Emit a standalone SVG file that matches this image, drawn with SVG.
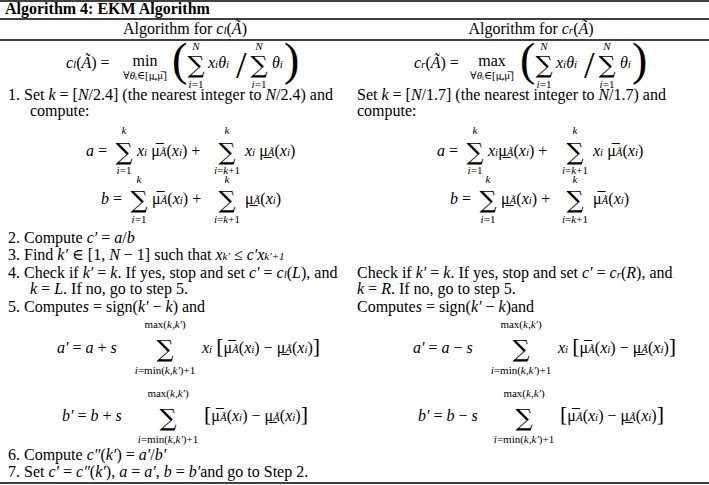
<svg xmlns="http://www.w3.org/2000/svg" width="709" height="485" viewBox="0 0 709 485">
<style>
text{font-family:"Liberation Serif","DejaVu Serif",serif;font-size:16px;fill:#000}
.b{font-weight:bold}
.i{font-style:italic}
.s{font-size:11px}
.sg{font-size:24px;font-family:"DejaVu Serif",serif;text-anchor:middle}
.c{text-anchor:middle}
line{stroke:#000;stroke-width:1.3}
</style>
<rect width="709" height="485" fill="#fff"/>
<g id="rules">
<line x1="0" y1="1" x2="709" y2="1"/>
<line x1="0" y1="19" x2="709" y2="19"/>
<line x1="0" y1="40" x2="709" y2="40"/>
<line x1="0" y1="483" x2="709" y2="483"/>
</g>
<g id="title"><text class="b" x="5" y="14">Algorithm 4: EKM Algorithm</text></g>
<g id="left">
<text class="c" x="185" y="34">Algorithm for <tspan class="i">c<tspan class="s">l</tspan></tspan>(<tspan class="i">Ã</tspan>)</text>
<text x="66" y="68"><tspan class="i">c<tspan class="s">l</tspan></tspan>(<tspan class="i">Ã</tspan>) = </text>
<text class="c" x="145" y="66">min</text>
<text class="s c" x="145" y="79">∀<tspan class="i">θ</tspan>ᵢ∈[μ̲,μ̅]</text>
<text x="172" y="75" style="font-size:46px;font-weight:100">(</text>
<text class="sg" x="196" y="73">∑</text>
<text class="s i c" x="196" y="50">N</text>
<text class="s c" x="196" y="88"><tspan class="i">i</tspan>=1</text>
<text class="i" x="208" y="68">x<tspan class="s">i</tspan>θ<tspan class="s">i</tspan></text>
<text x="236" y="78" style="font-size:38px;font-weight:100">/</text>
<text class="sg" x="259" y="73">∑</text>
<text class="s i c" x="259" y="50">N</text>
<text class="s c" x="259" y="88"><tspan class="i">i</tspan>=1</text>
<text class="i" x="272" y="68">θ<tspan class="s">i</tspan></text>
<text x="284" y="75" style="font-size:46px;font-weight:100">)</text>
<text x="8" y="100">1.  Set <tspan class="i">k</tspan> = [<tspan class="i">N</tspan>/2.4] (the nearest integer to <tspan class="i">N</tspan>/2.4) and</text>
<text x="30" y="116">compute:</text>
<text class="i" x="86" y="156">a</text><text x="98" y="156">=</text>
<text class="sg" x="124" y="160">∑</text>
<text class="s i c" x="124" y="134">k</text><text class="s c" x="124" y="174"><tspan class="i">i</tspan>=1</text>
<text x="137" y="156"><tspan class="i">x<tspan class="s">i</tspan></tspan> μ̅<tspan class="s i">Ã</tspan>(<tspan class="i">x<tspan class="s">i</tspan></tspan>) +</text>
<text class="sg" x="227" y="160">∑</text>
<text class="s i c" x="227" y="134">k</text><text class="s c" x="227" y="174"><tspan class="i">i</tspan>=<tspan class="i">k</tspan>+1</text>
<text x="245" y="156"><tspan class="i">x<tspan class="s">i</tspan></tspan> μ̲<tspan class="s i">Ã</tspan>(<tspan class="i">x<tspan class="s">i</tspan></tspan>)</text>
<text class="i" x="101" y="204">b</text><text x="113" y="204">=</text>
<text class="sg" x="139" y="208">∑</text>
<text class="s i c" x="139" y="183">k</text><text class="s c" x="139" y="223"><tspan class="i">i</tspan>=1</text>
<text x="152" y="204">μ̅<tspan class="s i">Ã</tspan>(<tspan class="i">x<tspan class="s">i</tspan></tspan>) +</text>
<text class="sg" x="227" y="208">∑</text>
<text class="s i c" x="227" y="183">k</text><text class="s c" x="227" y="223"><tspan class="i">i</tspan>=<tspan class="i">k</tspan>+1</text>
<text x="245" y="204">μ̲<tspan class="s i">Ã</tspan>(<tspan class="i">x<tspan class="s">i</tspan></tspan>)</text>
<text x="8" y="243">2.  Compute <tspan class="i">c′</tspan> =  <tspan class="i">a</tspan>/<tspan class="i">b</tspan></text>
<text x="8" y="260">3.  Find <tspan class="i">k′</tspan> ∈ [1, <tspan class="i">N</tspan> − 1] such that <tspan class="i">x<tspan class="s">k′</tspan></tspan> ≤ <tspan class="i">c′x<tspan class="s">k′+1</tspan></tspan></text>
<text x="8" y="278">4.  Check if <tspan class="i">k′</tspan> = <tspan class="i">k</tspan>. If yes, stop and set <tspan class="i">c′</tspan> = <tspan class="i">c<tspan class="s">l</tspan></tspan>(<tspan class="i">L</tspan>), and</text>
<text x="30" y="294"><tspan class="i">k</tspan> = <tspan class="i">L</tspan>. If no, go to step 5.</text>
<text x="8" y="312">5.  Compute<tspan class="i">s</tspan> = sign(<tspan class="i">k′</tspan> − <tspan class="i">k</tspan>) and</text>
<text x="57" y="353"><tspan class="i">a′</tspan> = <tspan class="i">a</tspan> + <tspan class="i">s</tspan></text>
<text class="s c" x="165" y="328">max(<tspan class="i">k</tspan>,<tspan class="i">k′</tspan>)</text>
<text class="sg" x="165" y="357">∑</text>
<text class="s c" x="165" y="374"><tspan class="i">i</tspan>=min(<tspan class="i">k</tspan>,<tspan class="i">k′</tspan>)+1</text>
<text x="202" y="353"><tspan class="i">x<tspan class="s">i</tspan></tspan> <tspan style="font-size:22px">[</tspan>μ̅<tspan class="s i">Ã</tspan>(<tspan class="i">x<tspan class="s">i</tspan></tspan>) − μ̲<tspan class="s i">Ã</tspan>(<tspan class="i">x<tspan class="s">i</tspan></tspan>)<tspan style="font-size:22px">]</tspan></text>
<text x="62" y="421"><tspan class="i">b′</tspan> = <tspan class="i">b</tspan> + <tspan class="i">s</tspan></text>
<text class="s c" x="168" y="397">max(<tspan class="i">k</tspan>,<tspan class="i">k′</tspan>)</text>
<text class="sg" x="168" y="426">∑</text>
<text class="s c" x="168" y="443"><tspan class="i">i</tspan>=min(<tspan class="i">k</tspan>,<tspan class="i">k′</tspan>)+1</text>
<text x="204" y="421"><tspan style="font-size:22px">[</tspan>μ̅<tspan class="s i">Ã</tspan>(<tspan class="i">x<tspan class="s">i</tspan></tspan>) − μ̲<tspan class="s i">Ã</tspan>(<tspan class="i">x<tspan class="s">i</tspan></tspan>)<tspan style="font-size:22px">]</tspan></text>
<text x="8" y="460">6.  Compute <tspan class="i">c″</tspan>(<tspan class="i">k′</tspan>) = <tspan class="i">a′</tspan>/<tspan class="i">b′</tspan></text>
<text x="8" y="477">7.  Set <tspan class="i">c′</tspan> = <tspan class="i">c″</tspan>(<tspan class="i">k′</tspan>), <tspan class="i">a</tspan> = <tspan class="i">a′</tspan>, <tspan class="i">b</tspan> = <tspan class="i">b′</tspan>and go to Step 2.</text>
</g>
<g id="right">
<text class="c" x="531" y="34">Algorithm for <tspan class="i">c<tspan class="s">r</tspan></tspan>(<tspan class="i">Ã</tspan>)</text>
<text x="414" y="68"><tspan class="i">c<tspan class="s">r</tspan></tspan>(<tspan class="i">Ã</tspan>) = </text>
<text class="c" x="492" y="66">max</text>
<text class="s c" x="492" y="79">∀<tspan class="i">θ</tspan>ᵢ∈[μ̲,μ̅]</text>
<text x="520" y="75" style="font-size:46px;font-weight:100">(</text>
<text class="sg" x="544" y="73">∑</text>
<text class="s i c" x="544" y="50">N</text>
<text class="s c" x="544" y="88"><tspan class="i">i</tspan>=1</text>
<text class="i" x="556" y="68">x<tspan class="s">i</tspan>θ<tspan class="s">i</tspan></text>
<text x="584" y="78" style="font-size:38px;font-weight:100">/</text>
<text class="sg" x="607" y="73">∑</text>
<text class="s i c" x="607" y="50">N</text>
<text class="s c" x="607" y="88"><tspan class="i">i</tspan>=1</text>
<text class="i" x="620" y="68">θ<tspan class="s">i</tspan></text>
<text x="632" y="75" style="font-size:46px;font-weight:100">)</text>
<text x="357" y="100">Set <tspan class="i">k</tspan> = [<tspan class="i">N</tspan>/1.7] (the nearest integer to <tspan class="i">N</tspan>/1.7) and</text>
<text x="357" y="116">compute:</text>
<text class="i" x="437" y="156">a</text><text x="449" y="156">=</text>
<text class="sg" x="475" y="160">∑</text>
<text class="s i c" x="475" y="134">k</text><text class="s c" x="475" y="174"><tspan class="i">i</tspan>=1</text>
<text x="488" y="156"><tspan class="i">x<tspan class="s">i</tspan></tspan>μ̲<tspan class="s i">Ã</tspan>(<tspan class="i">x<tspan class="s">i</tspan></tspan>) +</text>
<text class="sg" x="575" y="160">∑</text>
<text class="s i c" x="575" y="134">k</text><text class="s c" x="575" y="174"><tspan class="i">i</tspan>=<tspan class="i">k</tspan>+1</text>
<text x="593" y="156"><tspan class="i">x<tspan class="s">i</tspan></tspan> μ̅<tspan class="s i">Ã</tspan>(<tspan class="i">x<tspan class="s">i</tspan></tspan>)</text>
<text class="i" x="450" y="204">b</text><text x="462" y="204">=</text>
<text class="sg" x="488" y="208">∑</text>
<text class="s i c" x="488" y="183">k</text><text class="s c" x="488" y="223"><tspan class="i">i</tspan>=1</text>
<text x="501" y="204">μ̲<tspan class="s i">Ã</tspan>(<tspan class="i">x<tspan class="s">i</tspan></tspan>) +</text>
<text class="sg" x="575" y="208">∑</text>
<text class="s i c" x="575" y="183">k</text><text class="s c" x="575" y="223"><tspan class="i">i</tspan>=<tspan class="i">k</tspan>+1</text>
<text x="593" y="204">μ̅<tspan class="s i">Ã</tspan>(<tspan class="i">x<tspan class="s">i</tspan></tspan>)</text>
<text x="357" y="278">Check if <tspan class="i">k′</tspan> = <tspan class="i">k</tspan>. If yes, stop and set <tspan class="i">c′</tspan> = <tspan class="i">c<tspan class="s">r</tspan></tspan>(<tspan class="i">R</tspan>), and</text>
<text x="357" y="294"><tspan class="i">k</tspan> = <tspan class="i">R</tspan>. If no, go to step 5.</text>
<text x="357" y="312">Compute<tspan class="i">s</tspan> = sign(<tspan class="i">k′</tspan> − <tspan class="i">k</tspan>)and</text>
<text x="413" y="353"><tspan class="i">a′</tspan> = <tspan class="i">a</tspan> − <tspan class="i">s</tspan></text>
<text class="s c" x="521" y="328">max(<tspan class="i">k</tspan>,<tspan class="i">k′</tspan>)</text>
<text class="sg" x="521" y="357">∑</text>
<text class="s c" x="521" y="374"><tspan class="i">i</tspan>=min(<tspan class="i">k</tspan>,<tspan class="i">k′</tspan>)+1</text>
<text x="558" y="353"><tspan class="i">x<tspan class="s">i</tspan></tspan> <tspan style="font-size:22px">[</tspan>μ̅<tspan class="s i">Ã</tspan>(<tspan class="i">x<tspan class="s">i</tspan></tspan>) − μ̲<tspan class="s i">Ã</tspan>(<tspan class="i">x<tspan class="s">i</tspan></tspan>)<tspan style="font-size:22px">]</tspan></text>
<text x="418" y="421"><tspan class="i">b′</tspan> = <tspan class="i">b</tspan> − <tspan class="i">s</tspan></text>
<text class="s c" x="524" y="397">max(<tspan class="i">k</tspan>,<tspan class="i">k′</tspan>)</text>
<text class="sg" x="524" y="426">∑</text>
<text class="s c" x="524" y="443"><tspan class="i">i</tspan>=min(<tspan class="i">k</tspan>,<tspan class="i">k′</tspan>)+1</text>
<text x="560" y="421"><tspan style="font-size:22px">[</tspan>μ̅<tspan class="s i">Ã</tspan>(<tspan class="i">x<tspan class="s">i</tspan></tspan>) − μ̲<tspan class="s i">Ã</tspan>(<tspan class="i">x<tspan class="s">i</tspan></tspan>)<tspan style="font-size:22px">]</tspan></text>
</g>
</svg>
